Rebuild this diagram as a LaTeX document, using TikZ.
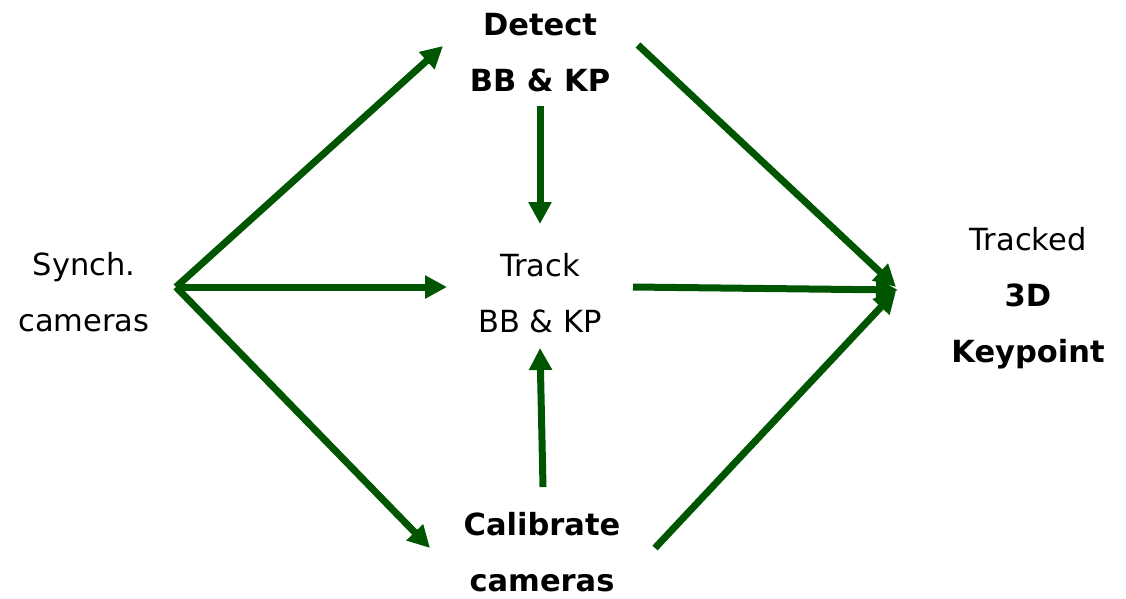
\documentclass[tikz,border=0pt]{standalone}
\usepackage{fontspec}
\setmainfont{DejaVu Sans}
\usetikzlibrary{arrows.meta}
\definecolor{arrgreen}{RGB}{0,85,0}
\begin{document}
\begin{tikzpicture}[x=1pt,y=-1pt,
  lbl/.style={anchor=base,align=center,inner sep=0pt,font=\fontsize{30.5}{56}\selectfont},
  blbl/.style={lbl,font=\fontsize{30.5}{56}\selectfont\bfseries},
  conn/.style={draw=arrgreen,line width=7pt,-{Triangle[length=22pt,width=22pt]}}]
\useasboundingbox (0,0) rectangle (1126,598);
\node[lbl]  (sync)   at (84,331)   {Synch.\\cameras};
\node[blbl] (detect) at (540,91)   {Detect\\BB \& KP};
\node[lbl]  (track)  at (540,332)  {Track\\BB \& KP};
\node[blbl] (calib)  at (542,591)  {Calibrate\\cameras};
\node[lbl]  (out)    at (1028,362) {Tracked\\\textbf{3D}\\\textbf{Keypoint}};
% connector ends
\coordinate (s0) at (176,287);
\coordinate (d0) at (443,46);
\coordinate (t0) at (447,287);
\coordinate (c0) at (430,548);
\coordinate (dB) at (540,106);
\coordinate (tT) at (540,224);
\coordinate (cT) at (543,487);
\coordinate (tB) at (540,348);
\coordinate (dR) at (638,45);
\coordinate (tR) at (633,287);
\coordinate (cR) at (655,548);
\coordinate (o1) at (896,287);
\coordinate (o2) at (898,290);
\coordinate (o3) at (896,291);
\draw[conn] (s0) -- (d0);
\draw[conn] (s0) -- (t0);
\draw[conn] (s0) -- (c0);
\draw[conn] (dB) -- (tT);
\draw[conn] (cT) -- (tB);
\draw[conn] (dR) -- (o1);
\draw[conn] (tR) -- (o2);
\draw[conn] (cR) -- (o3);
\end{tikzpicture}
\end{document}
